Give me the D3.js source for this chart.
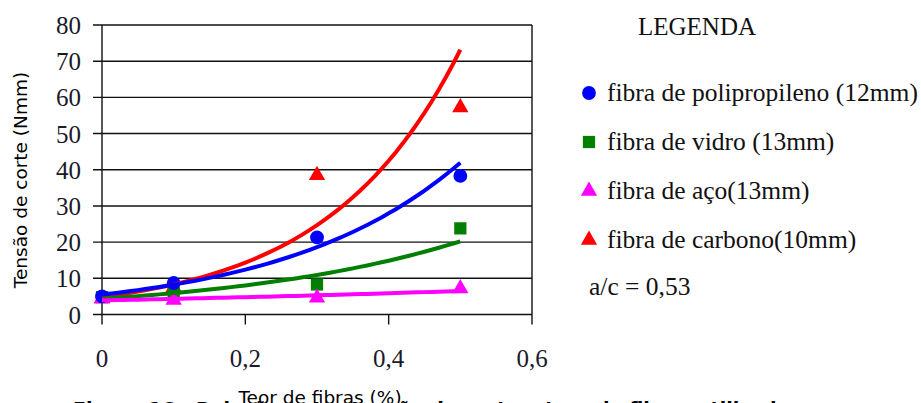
<!DOCTYPE html>
<html>
<head>
<meta charset="utf-8">
<script src="https://cdn.jsdelivr.net/npm/d3@7"></script>
<style>
  html, body { margin: 0; padding: 0; background: #fff; overflow: hidden; }
  svg { display: block; }
</style>
</head>
<body>
<figure style="margin:0"></figure>
<script>
// data
const teor = [0, 0.1, 0.3, 0.5]
const polipropileno = [5, 8.7, 21.3, 38.3]
const vidro = [4.8, 6, 8.3, 23.8]
const aco = [4.4, 4, 4.6, 7.2]
const carbono = [4.4, 7.5, 38.5, 57.2]
const yTicks = [0, 10, 20, 30, 40, 50, 60, 70, 80]
const xTicks = [0, 0.2, 0.4, 0.6]
const legendLabels = ["fibra de polipropileno (12mm)", "fibra de vidro (13mm)", "fibra de aço(13mm)", "fibra de carbono(10mm)"]

const series = [
    {name: legendLabels[3], values: carbono, color: "#ff0000", shape: "triangle"},
    {name: legendLabels[1], values: vidro, color: "#007f00", shape: "square"},
    {name: legendLabels[2], values: aco, color: "#ff00ff", shape: "triangle"},
    {name: legendLabels[0], values: polipropileno, color: "#0000ff", shape: "circle"}
]

const svg = d3.select("figure").append("svg")
    .attr("width", 921).attr("height", 403)
    .attr("viewBox", "0 0 921 403")
    .style("font-family", "'Liberation Serif', 'Times New Roman', serif"),
    x = d3.scaleLinear().domain([0, 0.6]).range([102, 532]),
    y = d3.scaleLinear().domain([0, 80]).range([314.5, 25])

svg.append("rect").attr("width", 921).attr("height", 403).attr("fill", "#fff")

// grid lines (horizontal ones also serve as y ticks)
svg.append("g").selectAll("line")
    .data(yTicks)
    .enter().append("line")
        .attr("x1", 93).attr("x2", x(0.6))
        .attr("y1", d => y(d)).attr("y2", d => y(d))
        .attr("stroke", "#111").attr("stroke-width", 1.4)

// left axis and right border
svg.append("g").selectAll("line")
    .data([0, 0.6])
    .enter().append("line")
        .attr("x1", d => x(d)).attr("x2", d => x(d))
        .attr("y1", y(80)).attr("y2", y(0) + 10)
        .attr("stroke", "#111").attr("stroke-width", 1.4)

// x ticks
svg.append("g").selectAll("line")
    .data([0.2, 0.4])
    .enter().append("line")
        .attr("x1", d => x(d)).attr("x2", d => x(d))
        .attr("y1", y(0)).attr("y2", y(0) + 10)
        .attr("stroke", "#111").attr("stroke-width", 1.4)

svg.append("g").selectAll("text")
    .data(yTicks)
    .enter().append("text")
        .text(d => d)
        .attr("x", 81).attr("y", d => y(d) + 9)
        .attr("text-anchor", "end")
        .attr("font-size", 25).attr("fill", "#1a1a2a")

svg.append("g").selectAll("text")
    .data(xTicks)
    .enter().append("text")
        .text(d => d3.format(".1f")(d).replace(".", ",").replace("0,0", "0"))
        .attr("x", d => x(d)).attr("y", 367)
        .attr("text-anchor", "middle")
        .attr("font-size", 25).attr("fill", "#1a1a2a")

// exponential trendline, least squares on ln(y) like a spreadsheet does
function expFit(xs, ys) {
    const ly = ys.map(Math.log),
        mx = d3.mean(xs), my = d3.mean(ly)
    const b = d3.sum(xs, (v, i) => (v - mx) * (ly[i] - my)) / d3.sum(xs, v => (v - mx) ** 2)
    const a = Math.exp(my - b * mx)
    return t => a * Math.exp(b * t)
}

const line = d3.line().x(d => x(d[0])).y(d => y(d[1]))
const samples = d3.range(0, 0.5 + 1e-9, 0.01)

const shapeOf = {
    circle: d3.symbol().type(d3.symbolCircle).size(150),
    square: d3.symbol().type(d3.symbolSquare).size(150),
    triangle: d3.symbol().type(d3.symbolTriangle).size(115)
}

// markers first, trendlines on top
for (const s of series) {
    svg.append("g").selectAll("path")
        .data(teor.map((t, i) => [t, s.values[i]]))
        .enter().append("path")
            .attr("d", shapeOf[s.shape]())
            .attr("transform", d => `translate(${x(d[0])},${y(d[1])})`)
            .attr("fill", s.color)
}
for (const s of series) {
    const f = expFit(teor, s.values)
    svg.append("path")
        .datum(samples.map(t => [t, f(t)]))
        .attr("d", line)
        .attr("fill", "none")
        .attr("stroke", s.color)
        .attr("stroke-width", 4)
}

// legend
svg.append("text").text("LEGENDA")
    .attr("x", 638).attr("y", 35)
    .attr("font-size", 25).attr("fill", "#111")

const legendRows = [series[3], series[1], series[2], series[0]]
const legend = svg.append("g").selectAll("g")
    .data(legendRows)
    .enter().append("g")
        .attr("transform", (d, i) => `translate(589,${93 + i * 49})`)
legend.append("path")
    .attr("d", d => shapeOf[d.shape]())
    .attr("fill", d => d.color)
legend.append("text")
    .text(d => d.name)
    .attr("x", 18).attr("y", 8)
    .attr("font-size", 25.5).attr("fill", "#111")

svg.append("text").text("a/c = 0,53")
    .attr("x", 589).attr("y", 295)
    .attr("font-size", 25.5).attr("fill", "#111")

// axis titles
svg.append("text").text("Tensão de corte (Nmm)")
    .attr("transform", "translate(27,180) rotate(-90)")
    .attr("text-anchor", "middle")
    .attr("font-family", "'DejaVu Sans', Verdana, sans-serif")
    .attr("font-size", 18.5).attr("fill", "#000")

// caption sits behind and is cut off by the page edge
svg.append("text").text("Figura 16 - Relação entre tensão de corte e teor de fibras utilizadas")
    .attr("x", 73).attr("y", 416)
    .attr("font-family", "'DejaVu Sans', Verdana, sans-serif")
    .attr("font-weight", "bold")
    .attr("font-size", 19).attr("fill", "#000")

svg.append("text").text("Teor de fibras (%)")
    .attr("x", 320).attr("y", 404)
    .attr("text-anchor", "middle")
    .attr("font-family", "'DejaVu Sans', Verdana, sans-serif")
    .attr("font-size", 18.5).attr("fill", "#000")
</script>
</body>
</html>
